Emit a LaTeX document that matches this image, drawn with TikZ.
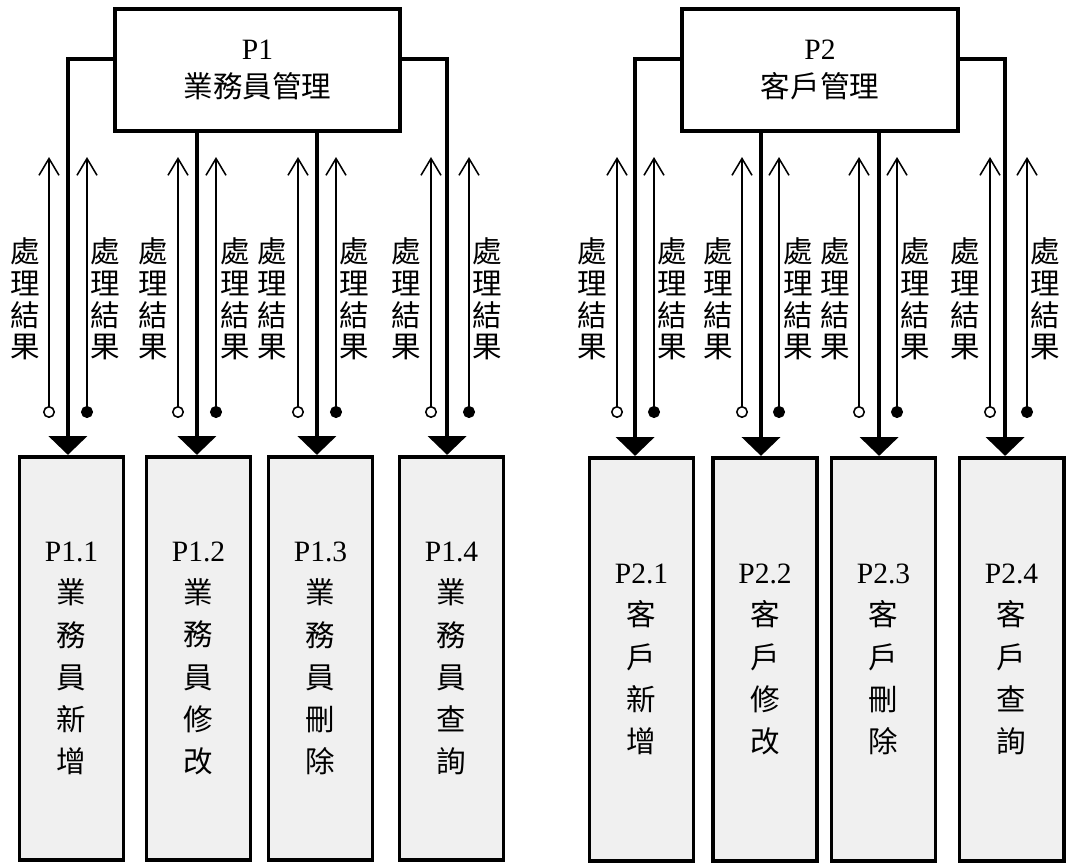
\documentclass[tikz,border=0pt]{standalone}
\usepackage{fontspec}
\setmainfont{Liberation Serif}
\newfontfamily\cjk{Noto Sans CJK TC}
\usetikzlibrary{arrows.meta}

\tikzset{
    mainbox/.style={draw, line width=2.8pt, minimum height=3.05cm, inner sep=0pt,
        align=center, font=\fontsize{21}{27}\selectfont},
    subbox/.style={draw, line width=2.8pt, fill=gray!12, minimum width=2.6cm,
        minimum height=10.08cm, inner sep=0pt, align=center, font=\fontsize{21}{30}\selectfont},
    flow/.style={line width=2.8pt, -{Triangle[width=0.95cm,length=0.47cm]}},
    resopen/.style={line width=1.1pt, {Circle[open,length=0.3cm]}-{Straight Barb[width=0.5cm,length=0.42cm]}},
    resfull/.style={line width=1.1pt, {Circle[length=0.3cm]}-{Straight Barb[width=0.5cm,length=0.42cm]}},
    vlabel/.style={align=center, inner sep=0pt, font=\fontsize{21}{22.5}\selectfont\cjk}
}

\begin{document}
\begin{tikzpicture}[x=0.025cm, y=-0.025cm]
    \useasboundingbox (0,0) rectangle (1069,863);
    \fill[white] (0,0) rectangle (1069,863);

    % P1 part
    \node[mainbox, minimum width=7.12cm] (p1) at (257.5,70) {P1\\\cjk 業務員管理};
    \node[subbox] (p11) at (71.5,658.5) {P1.1\\\cjk 業\\\cjk 務\\\cjk 員\\\cjk 新\\\cjk 增};
    \node[subbox] (p12) at (198.5,658.5) {P1.2\\\cjk 業\\\cjk 務\\\cjk 員\\\cjk 修\\\cjk 改};
    \node[subbox] (p13) at (320.5,658.5) {P1.3\\\cjk 業\\\cjk 務\\\cjk 員\\\cjk 刪\\\cjk 除};
    \node[subbox] (p14) at (451.5,658.5) {P1.4\\\cjk 業\\\cjk 務\\\cjk 員\\\cjk 查\\\cjk 詢};

    \draw[flow] ([yshift=0.275cm]p1.west) -| ([xshift=-0.09cm]p11.north);
    \draw[flow] ([xshift=-0.04cm]p1.south -| p12.north) -- ([xshift=-0.04cm]p12.north);
    \draw[flow] ([xshift=-0.09cm]p1.south -| p13.north) -- ([xshift=-0.09cm]p13.north);
    \draw[flow] ([yshift=0.275cm]p1.east) -| ([xshift=-0.11cm]p14.north);

    \coordinate (r11) at (49,418);
    \coordinate (r12) at (87,418);
    \coordinate (r13) at (178,418);
    \coordinate (r14) at (216,418);
    \coordinate (r15) at (298,418);
    \coordinate (r16) at (336,418);
    \coordinate (r17) at (431,418);
    \coordinate (r18) at (469,418);
    \draw[resopen] (r11) -- ++(0,-261);
    \draw[resfull] (r12) -- ++(0,-261);
    \draw[resopen] (r13) -- ++(0,-261);
    \draw[resfull] (r14) -- ++(0,-261);
    \draw[resopen] (r15) -- ++(0,-261);
    \draw[resfull] (r16) -- ++(0,-261);
    \draw[resopen] (r17) -- ++(0,-261);
    \draw[resfull] (r18) -- ++(0,-261);

    \node[vlabel] (l11) at (25,299) {處\\理\\結\\果};
    \node[vlabel] (l12) at (105,299) {處\\理\\結\\果};
    \node[vlabel] (l13) at (153,299) {處\\理\\結\\果};
    \node[vlabel] (l14) at (235,299) {處\\理\\結\\果};
    \node[vlabel] (l15) at (272,299) {處\\理\\結\\果};
    \node[vlabel] (l16) at (354,299) {處\\理\\結\\果};
    \node[vlabel] (l17) at (406,299) {處\\理\\結\\果};
    \node[vlabel] (l18) at (487,299) {處\\理\\結\\果};

    % P2 part
    \node[mainbox, minimum width=6.9cm] (p2) at (820,70) {P2\\\cjk 客戶管理};
    \node[subbox] (p21) at (641.5,659.5) {P2.1\\\cjk 客\\\cjk 戶\\\cjk 新\\\cjk 增};
    \node[subbox] (p22) at (765,659.5) {P2.2\\\cjk 客\\\cjk 戶\\\cjk 修\\\cjk 改};
    \node[subbox] (p23) at (883.5,659.5) {P2.3\\\cjk 客\\\cjk 戶\\\cjk 刪\\\cjk 除};
    \node[subbox] (p24) at (1011.5,659.5) {P2.4\\\cjk 客\\\cjk 戶\\\cjk 查\\\cjk 詢};

    \draw[flow] ([yshift=0.275cm]p2.west) -| ([xshift=-0.16cm]p21.north);
    \draw[flow] ([xshift=-0.1cm]p2.south -| p22.north) -- ([xshift=-0.1cm]p22.north);
    \draw[flow] ([xshift=-0.11cm]p2.south -| p23.north) -- ([xshift=-0.11cm]p23.north);
    \draw[flow] ([yshift=0.275cm]p2.east) -| ([xshift=-0.16cm]p24.north);

    \coordinate (r21) at (617,418);
    \coordinate (r22) at (654,418);
    \coordinate (r23) at (742,418);
    \coordinate (r24) at (779,418);
    \coordinate (r25) at (859,418);
    \coordinate (r26) at (897,418);
    \coordinate (r27) at (990,418);
    \coordinate (r28) at (1027,418);
    \draw[resopen] (r21) -- ++(0,-261);
    \draw[resfull] (r22) -- ++(0,-261);
    \draw[resopen] (r23) -- ++(0,-261);
    \draw[resfull] (r24) -- ++(0,-261);
    \draw[resopen] (r25) -- ++(0,-261);
    \draw[resfull] (r26) -- ++(0,-261);
    \draw[resopen] (r27) -- ++(0,-261);
    \draw[resfull] (r28) -- ++(0,-261);

    \node[vlabel] (l21) at (592,299) {處\\理\\結\\果};
    \node[vlabel] (l22) at (672,299) {處\\理\\結\\果};
    \node[vlabel] (l23) at (718,299) {處\\理\\結\\果};
    \node[vlabel] (l24) at (798,299) {處\\理\\結\\果};
    \node[vlabel] (l25) at (835,299) {處\\理\\結\\果};
    \node[vlabel] (l26) at (915,299) {處\\理\\結\\果};
    \node[vlabel] (l27) at (965,299) {處\\理\\結\\果};
    \node[vlabel] (l28) at (1045,299) {處\\理\\結\\果};
\end{tikzpicture}
\end{document}
